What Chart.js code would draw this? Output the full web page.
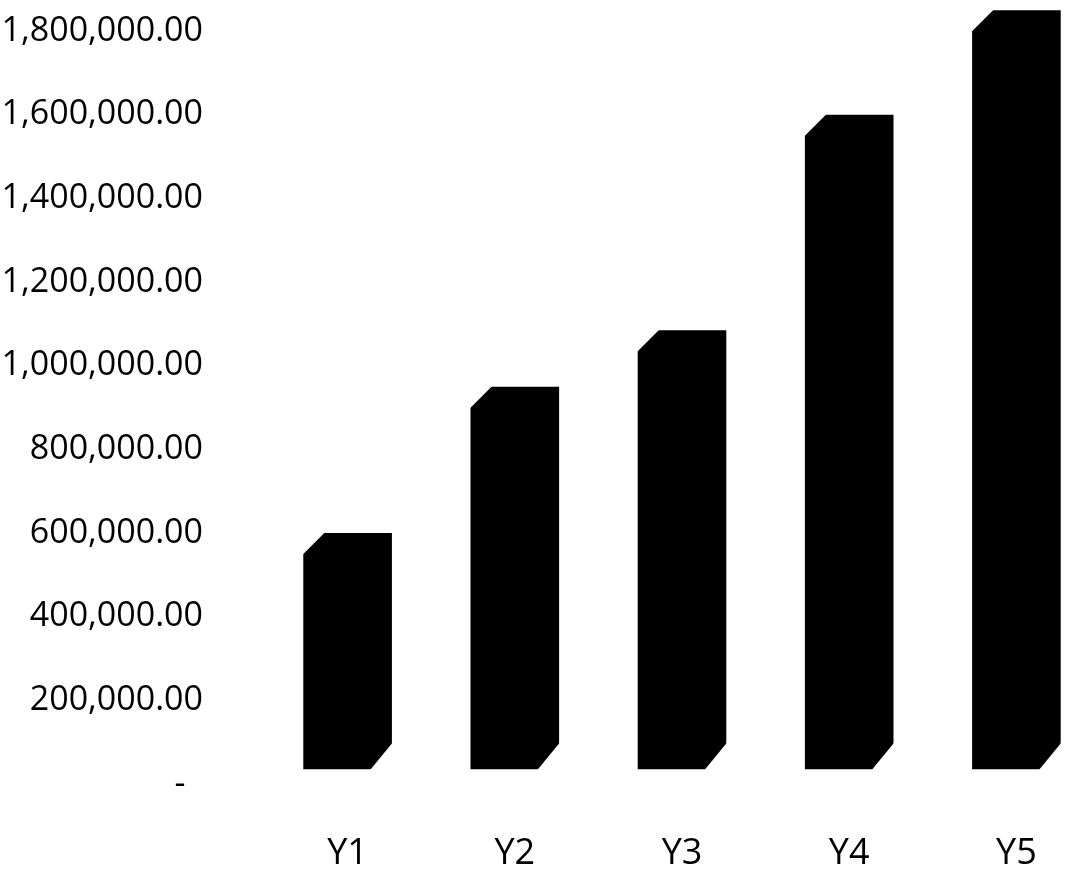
<!DOCTYPE html>
<html>
<head>
<meta charset="utf-8">
<script src="https://cdn.jsdelivr.net/npm/chart.js@4.4.1/dist/chart.umd.min.js"></script>
<style>
  html, body { margin: 0; padding: 0; background: #fff; overflow: hidden; }
  #wrap { width: 1100px; height: 889px; }
</style>
</head>
<body>
<div id="wrap"><canvas id="grafico"></canvas></div>
<script>
// dados
const categorias = ['Y1', 'Y2', 'Y3', 'Y4', 'Y5'];
const valores = [600000, 950000, 1085000, 1600000, 1850000];
const ticksEixo = [0, 200000, 400000, 600000, 800000, 1000000, 1200000, 1400000, 1600000, 1800000];

const fonte = "'Open Sans', 'Noto Sans', 'Liberation Sans', sans-serif";

// cantos chanfrados (efeito 3D do original)
const chanfro = {
    id: 'chanfro',
    afterDatasetsDraw(chart) {
        const ctx = chart.ctx;
        const c = 22;
        chart.getDatasetMeta(0).data.forEach(bar => {
            const esq = bar.x - bar.width / 2;
            const dir = bar.x + bar.width / 2;
            ctx.save();
            ctx.fillStyle = '#fff';
            ctx.beginPath();
            ctx.moveTo(esq - 1, bar.y - 1);
            ctx.lineTo(esq + c, bar.y - 1);
            ctx.lineTo(esq - 1, bar.y + c);
            ctx.closePath();
            ctx.fill();
            ctx.beginPath();
            ctx.moveTo(dir + 1, bar.base + 1);
            ctx.lineTo(dir - c, bar.base + 1);
            ctx.lineTo(dir + 1, bar.base - c - 5);
            ctx.closePath();
            ctx.fill();
            ctx.restore();
        });
    }
};

function formatar(v) {
    if (v === 0) return '-  ';
    return v.toLocaleString('en-US', { minimumFractionDigits: 2, maximumFractionDigits: 2 });
}

new Chart(document.getElementById('grafico'), {
    type: 'bar',
    data: {
        labels: categorias,
        datasets: [{
            data: valores,
            backgroundColor: '#000',
            borderWidth: 0,
            base: 35000,
            categoryPercentage: 1,
            barPercentage: 0.53
        }]
    },
    options: {
        responsive: true,
        maintainAspectRatio: false,
        animation: false,
        layout: { padding: { top: 6, right: 0, bottom: 0, left: 0 } },
        plugins: {
            legend: { display: false },
            tooltip: { enabled: false }
        },
        scales: {
            x: {
                grid: { display: false, drawTicks: false },
                border: { display: false },
                ticks: {
                    color: '#000',
                    padding: 48,
                    font: { family: fonte, size: 36 }
                },
                afterFit: scale => { scale.height = 105; }
            },
            y: {
                min: 0,
                max: 1860000,
                grid: { display: false, drawTicks: false },
                border: { display: false },
                ticks: {
                    color: '#000',
                    padding: 61,
                    font: { family: fonte, size: 34 },
                    callback: v => formatar(v)
                },
                afterBuildTicks: scale => {
                    scale.ticks = ticksEixo.map(v => ({ value: v }));
                },
                afterFit: scale => {
                    scale.width = 264;
                    scale.paddingTop = 0;
                    scale.paddingBottom = 0;
                }
            }
        }
    },
    plugins: [chanfro]
});
</script>
</body>
</html>
